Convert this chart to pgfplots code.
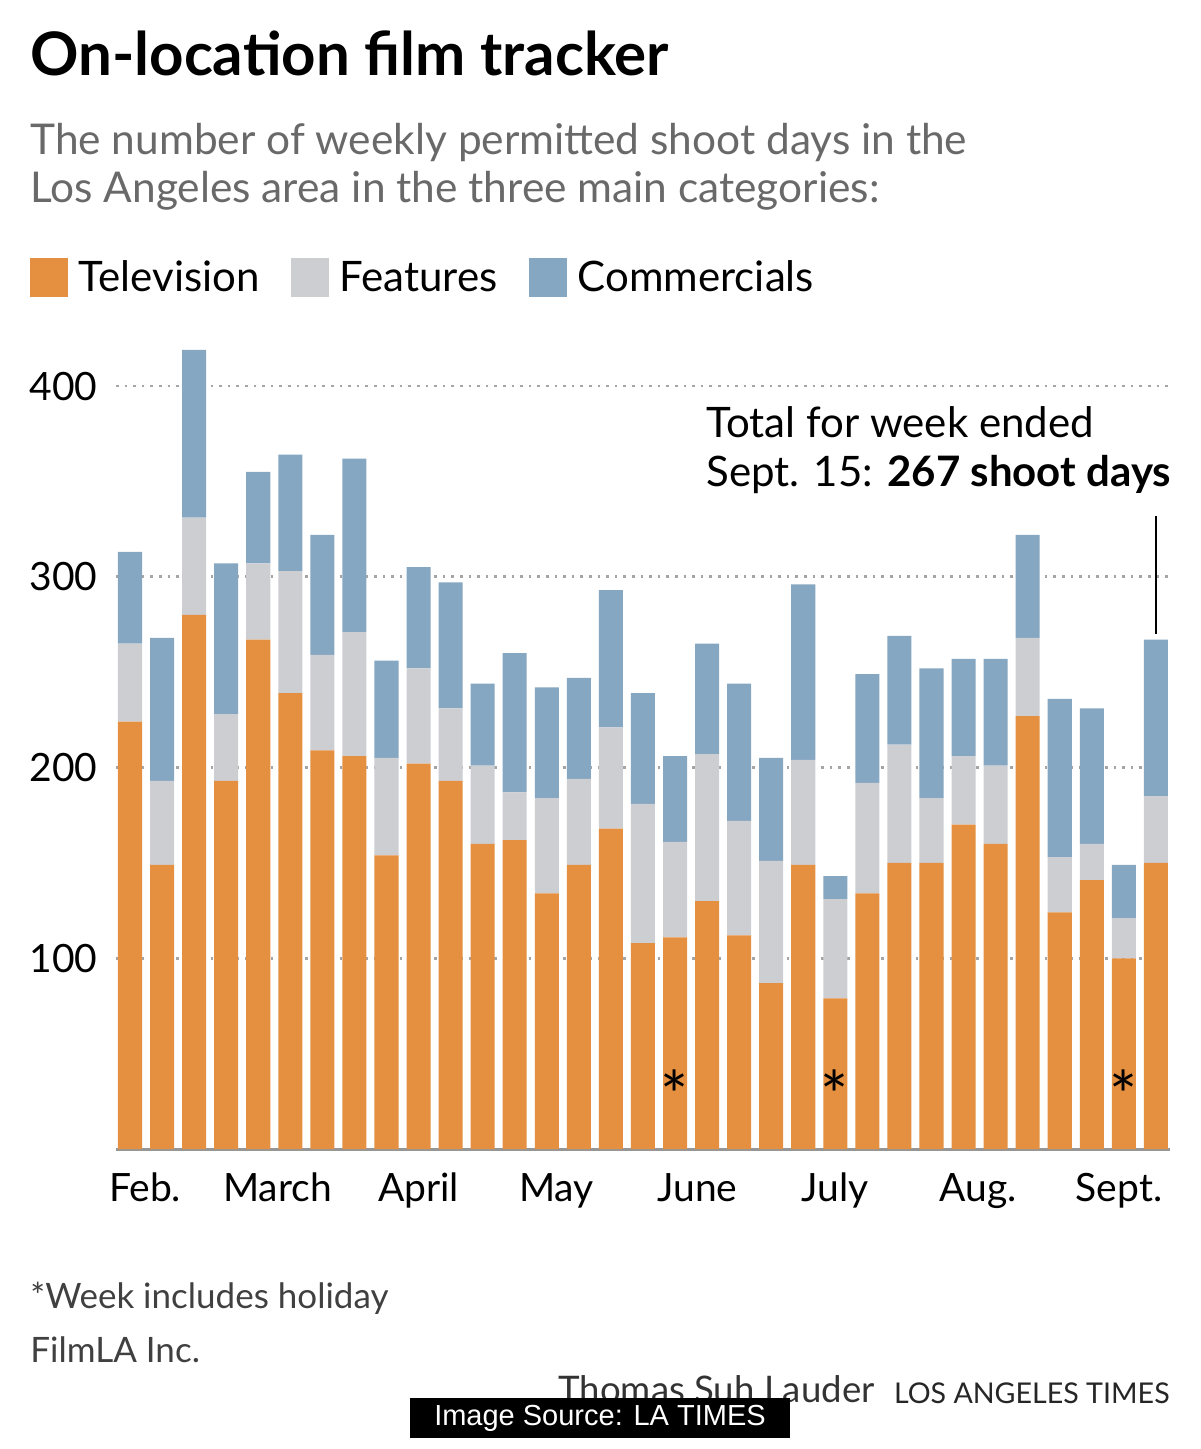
\documentclass[border=0pt]{standalone}
\usepackage{fontspec}
\setmainfont{Lato}
\newfontfamily\arialfont{Liberation Sans}
\usepackage{pgfplots}
\usepackage{pgfplotstable}
\pgfplotsset{compat=1.18}
\definecolor{tv}{RGB}{229,143,64}
\definecolor{feat}{RGB}{205,206,210}
\definecolor{comm}{RGB}{133,167,193}
\definecolor{gridc}{RGB}{165,165,165}
\definecolor{subc}{RGB}{105,105,105}
\definecolor{axc}{RGB}{150,150,150}

\pgfplotstableread{
x tv feat comm
0 224 41 48
1 149 44 75
2 280 51 88
3 193 35 79
4 267 40 48
5 239 64 61
6 209 50 63
7 206 65 91
8 154 51 51
9 202 50 53
10 193 38 66
11 160 41 43
12 162 25 73
13 134 50 58
14 149 45 53
15 168 53 72
16 108 73 58
17 111 50 45
18 130 77 58
19 112 60 72
20 87 64 54
21 149 55 92
22 79 52 12
23 134 58 57
24 150 62 57
25 150 34 68
26 170 36 51
27 160 41 56
28 227 41 54
29 124 29 83
30 141 19 71
31 100 21 28
32 150 35 82
}\datatable

\begin{document}
\begin{tikzpicture}
\path[use as bounding box] (0pt,0pt) rectangle (600pt,-724.5pt);
\begin{axis}[
  at={(58pt,-574.5pt)}, anchor=south west,
  scale only axis, width=527pt, height=410.1pt,
  xmin=-0.437, xmax=32.44, ymin=0, ymax=430,
  enlargelimits=false,
  ybar stacked, bar width=0.75,
  axis lines*=left,
  x axis line style={axc, line width=1.5pt, -},
  y axis line style={draw=none},
  xtick style={draw=none}, ytick style={draw=none},
  ytick={100,200,300,400},
  ymajorgrids,
  grid style={gridc, line width=1.3pt, dash pattern=on 1.3pt off 3pt},
  xtick={0.47,4.6,9.0,13.3,17.7,22.0,26.45,30.85},
  xticklabels={Feb.,March,April,May,June,July,Aug.,Sept.},
  xticklabel style={font=\fontsize{19.5}{20}\selectfont, anchor=base, inner sep=0pt, yshift=-26pt},
  yticklabel style={font=\fontsize{19.5}{20}\selectfont, anchor=east, inner sep=0pt, xshift=-9pt},
  /pgf/number format/assume math mode=true,
  legend columns=3,
  legend style={at={(-0.0816,1.0625)}, anchor=west, draw=none, fill=none,
    inner sep=0pt, outer sep=0pt, nodes={inner sep=0pt},
    font=\fontsize{21}{22}\selectfont,
    /tikz/every odd column/.append style={column sep=5.5pt},
    /tikz/every even column/.append style={column sep=15.5pt}},
  legend cell align=left,
  legend image code/.code={\path[#1, draw=none] (0pt,-9.75pt) rectangle (19pt,9.75pt);},
]
\addplot[fill=tv, draw=none] table[x=x, y=tv] {\datatable};
\addplot[fill=feat, draw=none] table[x=x, y=feat] {\datatable};
\addplot[fill=comm, draw=none] table[x=x, y=comm] {\datatable};
\legend{Television,Features,Commercials}
\draw[line width=1.4pt, black] (axis cs:32,270) -- (axis cs:32,332);
\end{axis}
\begin{scope}[x=0.5pt, y=-0.5pt]
\node[anchor=base, inner sep=0pt, text=black, font=\fontsize{33}{33}\selectfont] at (675,1119) {*};
\node[anchor=base, inner sep=0pt, text=black, font=\fontsize{33}{33}\selectfont] at (835,1119) {*};
\node[anchor=base, inner sep=0pt, text=black, font=\fontsize{33}{33}\selectfont] at (1124,1119) {*};
\node[anchor=base west, inner sep=0pt, font=\fontsize{30}{30}\selectfont\bfseries] at (30,76) {On-location film tracker};
\node[anchor=base west, inner sep=0pt, text=subc, font=\fontsize{21.2}{21}\selectfont] at (30,155) {The number of weekly permitted shoot days in the};
\node[anchor=base west, inner sep=0pt, text=subc, font=\fontsize{21.2}{21}\selectfont] at (30,203) {Los Angeles area in the three main categories:};
\node[anchor=base west, inner sep=0pt, font=\fontsize{21}{21}\selectfont] at (706,437) {Total for week ended};
\node[anchor=base west, inner sep=0pt, font=\fontsize{21}{21}\selectfont] at (706,486) {Sept. 15: \textbf{267 shoot days}};
\node[anchor=base west, inner sep=0pt, text=black!75, font=\fontsize{17.5}{17.5}\selectfont] at (30,1308) {*Week includes holiday};
\node[anchor=base west, inner sep=0pt, text=black!75, font=\fontsize{17.5}{17.5}\selectfont] at (30,1362) {FilmLA Inc.};
\node[anchor=base east, inner sep=0pt, text=black!80, font=\fontsize{18.3}{18}\selectfont] at (875,1402) {Thomas Suh Lauder};
\node[anchor=base east, inner sep=0pt, text=black!85, font=\fontsize{14.3}{14}\selectfont] at (1170,1403) {LOS ANGELES TIMES};
\node[fill=black, text=white, inner sep=0pt, minimum width=190pt, minimum height=20pt, font=\arialfont\fontsize{14.5}{15}\selectfont] at (600,1418) {Image Source: LA TIMES};
\end{scope}
\end{tikzpicture}
\end{document}
